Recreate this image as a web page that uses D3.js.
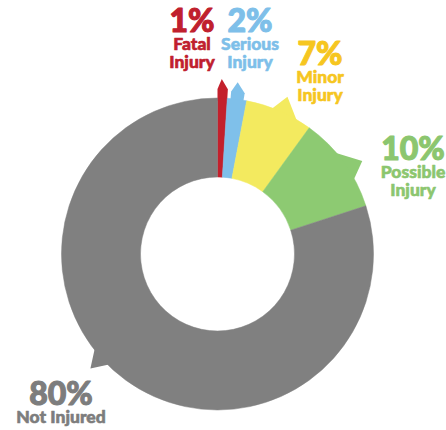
<!DOCTYPE html>
<html>
<head>
<meta charset="utf-8">
<script src="https://cdn.jsdelivr.net/npm/d3@7"></script>
<style>
  html, body { margin: 0; padding: 0; background: #fff; }
  svg { display: block; }
  text { font-family: Lato, "Open Sans", sans-serif; font-weight: 900; text-anchor: middle; stroke-linejoin: round; }
</style>
</head>
<body>
<svg id="chart" width="446" height="430"></svg>
<script>
// Injury severity shares (percent)
const categories = ["Fatal Injury", "Serious Injury", "Minor Injury", "Possible Injury", "Not Injured"];
const labelLines = [["Fatal", "Injury"], ["Serious", "Injury"], ["Minor", "Injury"], ["Possible", "Injury"], ["Not Injured"]];
const values = [1, 2, 7, 10, 80];

const sliceColors = ["#c3202c", "#7fc0ea", "#f3ea5f", "#8dca72", "#808080"];
const textColors  = ["#c0202d", "#7ebfe9", "#f6c61f", "#8cc66f", "#7d7d7d"];

const width = 446, height = 430;
const cx = 217.5, cy = 254;
const innerR = 77, outerR = 156;
const deg = Math.PI / 180;

// Callout tails: base edges and tip, in degrees relative to the slice's mid-angle
// (null base = use the slice's own edges), tip distance from the centre, shoulder height.
const tails = [
  { base: null,        tip: -0.4, tipR: 175, shoulder: 9 },
  { base: [-2.4, 2.4], tip: -0.5, tipR: 173, shoulder: 7 },
  { base: [-3.4, 8.4], tip: 0.6,  tipR: 172, shoulder: 0 },
  { base: [-6, 8],     tip: 3.3,  tipR: 172, shoulder: 0 },
  { base: [8, 17],     tip: 12,   tipR: 171, shoulder: 0 }
];

// Label anchor (centre x, baseline of the percentage) for each callout
const labelPos = [[192, 32], [250, 32], [320, 65], [413, 160], [61, 405]];

const svg = d3.select("#chart");
const g = svg.append("g").attr("transform", `translate(${cx},${cy})`);

const pie = d3.pie().sort(null).value(d => d).startAngle(0).endAngle(2 * Math.PI);
const arcs = pie(values);
const arc = d3.arc().innerRadius(innerR).outerRadius(outerR);

const pt = (a, r) => [r * Math.sin(a), -r * Math.cos(a)];

// tails first, then the ring on top
g.selectAll("path.tail")
  .data(arcs)
  .join("path")
  .attr("class", "tail")
  .attr("fill", (d, i) => sliceColors[i])
  .attr("d", (d, i) => {
    const t = tails[i];
    const mid = (d.startAngle + d.endAngle) / 2;
    const b0 = t.base ? mid + t.base[0] * deg : d.startAngle;
    const b1 = t.base ? mid + t.base[1] * deg : d.endAngle;
    const tip = mid + t.tip * deg;
    const pts = [pt(b0, outerR - 3)];
    if (t.shoulder) pts.push(pt(b0, outerR + t.shoulder));
    pts.push(pt(tip, t.tipR));
    if (t.shoulder) pts.push(pt(b1, outerR + t.shoulder));
    pts.push(pt(b1, outerR - 3));
    return d3.line()(pts) + "Z";
  });

g.selectAll("path.slice")
  .data(arcs)
  .join("path")
  .attr("class", "slice")
  .attr("fill", (d, i) => sliceColors[i])
  .attr("stroke", (d, i) => sliceColors[i])
  .attr("stroke-width", 0.5)
  .attr("d", arc);

// Labels: one text block per callout, percentage on top, name lines below
const lbl = svg.selectAll("text.label")
  .data(categories)
  .join("text")
  .attr("class", "label")
  .attr("fill", (d, i) => textColors[i])
  .attr("stroke", (d, i) => textColors[i])
  .attr("x", (d, i) => labelPos[i][0])
  .attr("y", (d, i) => labelPos[i][1]);

lbl.each(function(d, i) {
  const t = d3.select(this);
  t.append("tspan")
    .attr("x", labelPos[i][0])
    .attr("font-size", 32)
    .attr("stroke-width", 1.1)
    .text(values[i] + "%");
  labelLines[i].forEach((s, j) => {
    t.append("tspan")
      .attr("x", labelPos[i][0])
      .attr("dy", 18)
      .attr("font-size", 17.5)
      .attr("stroke-width", 0.6)
      .text(s);
  });
});
</script>
</body>
</html>
